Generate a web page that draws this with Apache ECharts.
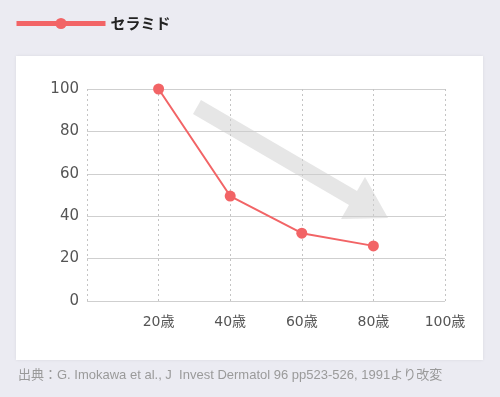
<!DOCTYPE html>
<html>
<head>
<meta charset="utf-8">
<script src="https://cdn.jsdelivr.net/npm/echarts@6/dist/echarts.min.js"></script>
<style>
  html, body { margin: 0; padding: 0; background: #ebebf2; }
  #chart { width: 500px; height: 397px; }
</style>
</head>
<body>
<div id="chart"></div>
<script>
// 年代ごとのセラミド量 (20歳 = 100)
const ageLabels = ['', '20歳', '40歳', '60歳', '80歳', '100歳']
const ceramide = [null, 100, 49.5, 32, 26, null]
const yTicks = { min: 0, max: 100, interval: 20 }

const red = '#f26466'
const font = '"DejaVu Sans", "Noto Sans CJK JP", sans-serif'
const srcFont = '"Liberation Sans", "Noto Sans CJK JP", sans-serif'

const chart = echarts.init(document.getElementById('chart'))

const option = {
  backgroundColor: '#ebebf2',
  animation: false,
  textStyle: { fontFamily: font },
  legend: {
    left: 14,
    top: 16,
    padding: 0,
    itemWidth: 89,
    itemHeight: 14,
    itemGap: 10,
    lineStyle: { width: 5 },
    textStyle: { color: '#222', fontSize: 15, fontWeight: 'bold', fontFamily: '"Noto Sans CJK JP", sans-serif' }
  },
  grid: { left: 87, top: 89, right: 55, bottom: 96 },
  xAxis: {
    type: 'category',
    data: ageLabels,
    boundaryGap: false,
    axisLine: { show: false },
    axisTick: { show: false },
    axisLabel: { color: '#555', fontSize: 14, margin: 14, fontFamily: font },
    splitLine: { show: true, lineStyle: { color: '#c4c4c4', type: [2, 3], width: 1 } }
  },
  yAxis: {
    type: 'value',
    min: yTicks.min,
    max: yTicks.max,
    interval: yTicks.interval,
    axisLine: { show: false },
    axisTick: { show: false },
    axisLabel: { color: '#555', fontSize: 15, margin: 8, fontFamily: font },
    splitLine: { lineStyle: { color: '#cfcfcf', width: 1 } }
  },
  graphic: [
    // 白いパネル
    {
      type: 'rect', z: -10, silent: true,
      shape: { x: 16, y: 56, width: 467, height: 304 },
      style: { fill: '#fff', shadowBlur: 3, shadowColor: 'rgba(0,0,0,0.08)' }
    },
    // 下向きの矢印 (装飾)
    {
      type: 'polygon', z: 1, silent: true,
      shape: {
        points: [[201, 100], [357, 191], [365, 177], [388, 218], [341, 219], [349, 205], [193, 114]]
      },
      style: { fill: 'rgba(205,205,205,0.5)' }
    },
    {
      type: 'text', left: 18, top: 369, silent: true,
      style: {
        text: '出典：G. Imokawa et al., J  Invest Dermatol 96 pp523-526, 1991より改変',
        fill: '#9a9a9a', fontSize: 13, fontFamily: srcFont
      }
    }
  ],
  series: [{
    name: 'セラミド',
    type: 'line',
    data: ceramide,
    z: 5,
    symbol: 'circle',
    symbolSize: 11,
    lineStyle: { color: red, width: 2 },
    itemStyle: { color: red }
  }]
}

chart.setOption(option)
</script>
</body>
</html>
